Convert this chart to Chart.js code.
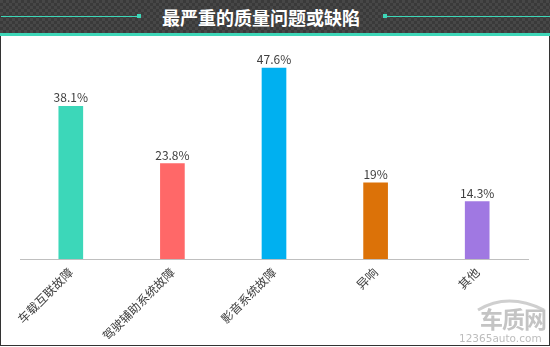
<!DOCTYPE html>
<html><head><meta charset="utf-8">
<script src="https://cdn.jsdelivr.net/npm/chart.js@4/dist/chart.umd.min.js"></script>
<style>
html,body{margin:0;padding:0;background:#fff;}
#wrap{position:relative;width:550px;height:347px;overflow:hidden;font-family:"Noto Sans CJK SC","Microsoft YaHei",sans-serif;}
#hdr{position:absolute;left:0;top:0;width:550px;height:33px;background-color:#3b3b3b;
 background-image:repeating-conic-gradient(#3a3a3a 0 25%, #474747 0 50%);background-size:6px 6px;}
#stripe{position:absolute;left:0;top:33px;width:550px;height:3px;background:#3dd6b7;}
#title{position:absolute;left:161px;width:200px;top:4px;text-align:center;color:#fff;font-weight:bold;font-size:18px;line-height:26px;white-space:nowrap;}
.ln{position:absolute;top:16px;height:1px;background:#3dd6b7;}
.sq{position:absolute;top:14px;width:4px;height:4px;background:#3dd6b7;}
#frame{position:absolute;left:0;top:36px;width:548px;height:309px;border:1px solid #333;border-top:none;}
#c{position:absolute;left:0;top:0;}
#wm1{position:absolute;left:480px;top:305px;font-size:23px;font-weight:bold;color:#c4c4c4;letter-spacing:-1px;line-height:26px;white-space:nowrap;}
#wm2{position:absolute;left:459px;top:332px;font-size:10.5px;color:#bdbdbd;font-family:"DejaVu Sans",sans-serif;line-height:12px;white-space:nowrap;}
</style></head>
<body>
<div id="wrap">
 <div id="hdr"></div>
 <div class="ln" style="left:1px;width:138px"></div><div class="sq" style="left:137px"></div>
 <div class="ln" style="left:385px;width:165px"></div><div class="sq" style="left:383px"></div>
 <div id="title">最严重的质量问题或缺陷</div>
 <div id="stripe"></div>
 <div id="frame"></div>
 <canvas id="c" width="550" height="347"></canvas>
 <svg style="position:absolute;left:476px;top:296px" width="72" height="16"><path d="M2 14 Q32 -4 68 14" stroke="#cfcfcf" stroke-width="3" fill="none"/></svg>
 <div id="wm1">车质网</div>
 <div id="wm2">12365auto.com</div>
</div>
<script>
const categories = ["车载互联故障","驾驶辅助系统故障","影音系统故障","异响","其他"];
const values = [38.1, 23.8, 47.6, 19, 14.3];
const valueLabels = ["38.1%","23.8%","47.6%","19%","14.3%"];
const colors = ["#3cd7b9","#ff6868","#00b0f0","#dc7208","#a078e2"];

const labelPlugin = {
  id:'vlabels',
  afterDatasetsDraw(chart){
    const ctx = chart.ctx;
    const meta = chart.getDatasetMeta(0);
    ctx.save();
    ctx.font = '12px "Noto Sans CJK SC", sans-serif';
    ctx.fillStyle = '#404040';
    ctx.textAlign = 'center';
    ctx.textBaseline = 'alphabetic';
    meta.data.forEach((b,i)=>{ ctx.fillText(valueLabels[i], b.x, b.y-4); });
    ctx.restore();
  }
};

new Chart(document.getElementById('c'), {
  type:'bar',
  data:{labels:categories,datasets:[{data:values,backgroundColor:colors,barThickness:24}]},
  options:{
    responsive:false,animation:false,
    layout:{padding:{left:20,right:22,top:58.5,bottom:8}},
    plugins:{legend:{display:false},tooltip:{enabled:false}},
    scales:{
      x:{
        grid:{display:false,drawTicks:false},
        border:{display:true,color:'#bfbfbf',width:1},
        ticks:{color:'#404040',font:{size:12,family:'"Noto Sans CJK SC", sans-serif'},minRotation:45,maxRotation:45,padding:6,autoSkip:false},
        afterFit(s){ s.height = 80; }
      },
      y:{display:false,min:0,max:50}
    }
  },
  plugins:[labelPlugin]
});
</script>
</body></html>
